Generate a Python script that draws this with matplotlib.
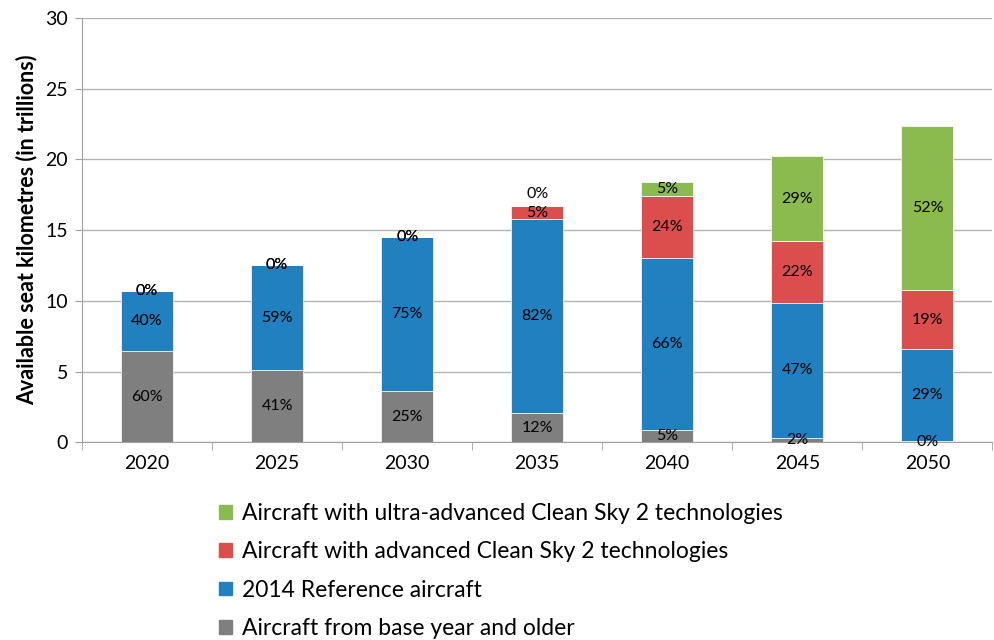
import numpy as np
import matplotlib.pyplot as plt
from matplotlib.patches import Patch

plt.rcParams['font.family'] = ['Lato', 'DejaVu Sans']

years = ["2020", "2025", "2030", "2035", "2040", "2045", "2050"]

# available seat km (trillions)
base_old = [6.45, 5.10, 3.62, 2.05, 0.85, 0.30, 0.07]
ref_2014 = [4.25, 7.42, 10.88, 13.73, 12.17, 9.55, 6.50]
advanced = [0.0, 0.0, 0.0, 0.92, 4.38, 4.38, 4.20]
ultra = [0.0, 0.0, 0.0, 0.0, 0.98, 5.98, 11.60]

# percentage labels shown on the bars
pct_base = ["60%", "41%", "25%", "12%", "5%", "2%", "0%"]
pct_ref = ["40%", "59%", "75%", "82%", "66%", "47%", "29%"]
pct_adv = ["0%", "0%", "0%", "5%", "24%", "22%", "19%"]
pct_ultra = ["0%", "0%", "0%", "0%", "5%", "29%", "52%"]

series = [
    ("Aircraft from base year and older", base_old, pct_base, "#7f7f7f"),
    ("2014 Reference aircraft", ref_2014, pct_ref, "#2180c0"),
    ("Aircraft with advanced Clean Sky 2 technologies", advanced, pct_adv, "#dc4e4d"),
    ("Aircraft with ultra-advanced Clean Sky 2 technologies", ultra, pct_ultra, "#8bbb4f"),
]

fig = plt.figure(figsize=(9.95, 6.4), dpi=100)
ax = fig.add_axes([0.0824, 0.309, 0.915, 0.663])

x = np.arange(len(years))
bottom = np.zeros(len(years))
prev_h = np.zeros(len(years))
for name, vals, labels, col in series:
    vals = np.array(vals)
    ax.bar(x, vals, 0.4, bottom=bottom, color=col, edgecolor="white",
           linewidth=0.5, zorder=3, label=name)
    for i in range(len(years)):
        yc = bottom[i] + vals[i] / 2
        dy = 0
        if vals[i] == 0 and 0 < prev_h[i] < 1.5:
            dy = 9
        ax.annotate(labels[i], (x[i], yc), xytext=(0, dy),
                    textcoords="offset points", ha="center", va="center",
                    fontsize=11.5, color="black", zorder=4)
    prev_h = np.where(vals > 0, vals, prev_h)
    bottom = bottom + vals

ax.set_xlim(-0.5, len(years) - 0.5)
ax.set_ylim(0, 30)
ax.set_yticks(range(0, 31, 5))
ax.set_xticks(x)
ax.set_xticklabels(years)
ax.set_xticks(np.arange(-0.5, len(years), 1), minor=True)
ax.tick_params(axis="x", which="major", length=0, pad=9, labelsize=14)
ax.tick_params(axis="x", which="minor", length=6, color="#a0a0a0")
ax.tick_params(axis="y", length=5, color="#a0a0a0", labelsize=14, pad=5)
ax.grid(axis="y", color="#b3b3b3", linewidth=1, zorder=0)
for s in ["top", "right"]:
    ax.spines[s].set_visible(False)
for s in ["left", "bottom"]:
    ax.spines[s].set_color("#a0a0a0")
ax.set_ylabel("Available seat kilometres (in trillions)", fontsize=15.5,
              fontweight="bold", labelpad=6)

handles = [Patch(color=c, label=n) for n, v, l, c in series][::-1]
fig.legend(handles=handles, loc="upper left", bbox_to_anchor=(0.211, 0.228),
           frameon=False, fontsize=16.5, handlelength=0.55, handleheight=0.55,
           handletextpad=0.45, labelspacing=0.75, borderaxespad=0)

fig.savefig("out.png", dpi=100)
